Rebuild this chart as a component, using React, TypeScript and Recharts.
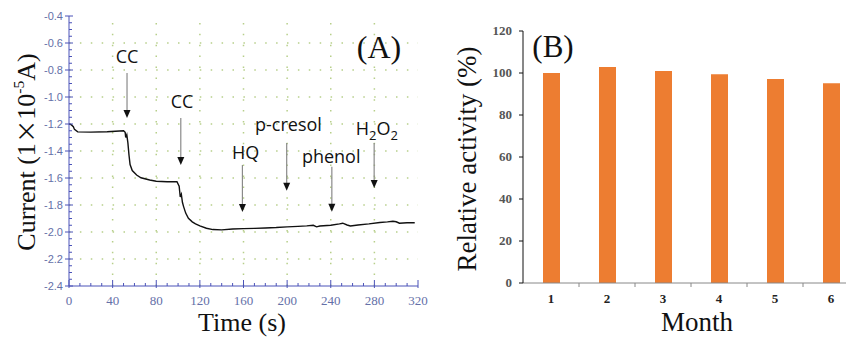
import { LineChart, Line, BarChart, Bar, XAxis, YAxis, ReferenceLine, ReferenceDot } from "recharts";

// panel A: amperometric response
const times = [0, 2, 4, 5, 8, 20, 35, 50, 51.5, 52, 53, 54, 55, 56, 58, 62, 66, 74, 80, 90, 99, 101, 102, 103, 104, 105, 107, 109.5, 113, 116, 120, 126, 132, 140, 150, 160, 170, 180, 190, 200, 210, 218, 224, 227, 230, 240, 248, 251, 255, 258, 265, 275, 285, 292, 297, 300, 303, 310, 317];
const currents = [-1.2, -1.205, -1.22, -1.24, -1.258, -1.26, -1.257, -1.25, -1.262, -1.3, -1.28, -1.34, -1.43, -1.5, -1.545, -1.578, -1.598, -1.615, -1.624, -1.628, -1.627, -1.66, -1.74, -1.72, -1.78, -1.81, -1.86, -1.899, -1.925, -1.94, -1.955, -1.972, -1.982, -1.984, -1.978, -1.975, -1.973, -1.97, -1.967, -1.962, -1.958, -1.955, -1.95, -1.962, -1.956, -1.95, -1.94, -1.935, -1.948, -1.955, -1.948, -1.94, -1.93, -1.925, -1.92, -1.924, -1.935, -1.932, -1.932];

const xMajorA = [0, 40, 80, 120, 160, 200, 240, 280, 320];
const yMajorA = [-2.4, -2.2, -2.0, -1.8, -1.6, -1.4, -1.2, -1.0, -0.8, -0.6, -0.4];

// arrows and labels for the additions
const annoLabels = ["CC", "CC", "HQ", "p-cresol", "phenol", "H2O2"];
const annoArrowT = [53.2, 102.5, 159, 199.6, 241, 279.8];
const annoArrowTop = [-0.822, -1.156, -1.504, -1.341, -1.516, -1.341];
const annoArrowTip = [-1.156, -1.504, -1.852, -1.694, -1.85, -1.674];
const annoTextT = [53.2, 103.7, 161.9, 201.2, 240.4, 282.3];
const annoTextV = [-0.748, -1.081, -1.459, -1.25, -1.487, -1.281];

// panel B: storage stability
const months = ["1", "2", "3", "4", "5", "6"];
const activity = [100, 102.8, 101, 99.4, 97.2, 95.1];
const yTicksB = [0, 20, 40, 60, 80, 100, 120];

const AX = "#4a52b8";
const LBL = "#6470a8";
const GRID = "#b7cf8a";
const bandB = 56;
const serif = "'Liberation Serif', 'Times New Roman', serif";

const withMinor = (major: number[], parts: number) =>
  major.flatMap((m, i) =>
    i === 0 ? [m] : Array.from({ length: parts }, (_, k) => +(major[i - 1] + ((m - major[i - 1]) * (k + 1)) / parts).toFixed(4))
  );
const xTicksA = withMinor(xMajorA, 4);
const yTicksA = withMinor(yMajorA, 4);
const isMajor = (arr: number[], v: number) => arr.some((m) => Math.abs(m - v) < 1e-6);

const lineData = times.map((t, i) => ({ t, current: currents[i] }));
const barData = months.map((m, i) => ({ month: m, activity: activity[i] }));

const XTickA = ({ x, y, payload }: any) => {
  const major = isMajor(xMajorA, payload.value);
  return (
    <g>
      <line x1={x} x2={x} y1={y - (major ? 6 : 3)} y2={y + (major ? 2 : 0)} stroke={AX} />
      {major && (
        <text x={x} y={y + 19} textAnchor="middle" style={{ fontFamily: serif }} fontSize={13} fill={LBL}>
          {payload.value}
        </text>
      )}
    </g>
  );
};

const TopTickA = ({ x, y, payload }: any) => {
  const major = isMajor(xMajorA, payload.value);
  return <line x1={x} x2={x} y1={y} y2={y - (major ? 5 : 3)} stroke={AX} />;
};

const YTickA = ({ x, y, payload }: any) => {
  const major = isMajor(yMajorA, payload.value);
  return (
    <g>
      <line x1={x - (major ? 4 : 0)} x2={x + (major ? 4 : 3)} y1={y} y2={y} stroke={AX} />
      {major && (
        <text x={x - 6} y={y + 4} textAnchor="end" style={{ fontFamily: "'Liberation Sans Narrow', 'Liberation Sans'" }} fontSize={11} fill={LBL}>
          {payload.value.toFixed(1)}
        </text>
      )}
    </g>
  );
};

const RightTickA = ({ x, y, payload }: any) => {
  const major = isMajor(yMajorA, payload.value);
  return <line x1={x - (major ? 3 : 0)} x2={x + (major ? 4 : 3)} y1={y} y2={y} stroke={AX} />;
};

const Arrow = ({ x1, y1, x2, y2 }: any) => (
  <g>
    <line x1={x1} x2={x2} y1={y1} y2={y2 - 7} stroke="#8a8a8a" strokeWidth={1.2} />
    <polygon points={`${x2 - 3.5},${y2 - 8} ${x2 + 3.5},${y2 - 8} ${x2},${y2}`} fill="#111" />
  </g>
);

const AnnoText = (label: string) => ({ cx, cy }: any) => (
  <text x={cx} y={cy} textAnchor="middle" style={{ fontFamily: "'Open Sans'" }} fontSize={18} fill="#111">
    {label === "H2O2" ? (
      <>
        H<tspan dy={5} fontSize={13}>2</tspan>
        <tspan dy={-5}>O</tspan>
        <tspan dy={5} fontSize={13}>2</tspan>
      </>
    ) : (
      label
    )}
  </text>
);

const XTickB = ({ x, y, payload, index }: any) => (
  <g>
    {index > 0 && <line x1={x - bandB / 2} x2={x - bandB / 2} y1={y} y2={y + 4} stroke="#888" />}
    <text x={x} y={y + 20} textAnchor="middle" style={{ fontFamily: serif, fontWeight: "bold" }} fontSize={13} fill="#222">
      {payload.value}
    </text>
  </g>
);

const YTickB = ({ x, y, payload }: any) => (
  <text x={x} y={y + 4} textAnchor="end" style={{ fontFamily: serif, fontWeight: "bold" }} fontSize={13} fill="#555">
    {payload.value}
  </text>
);

const title = (text: any, cx: number, cy: number, size: number, rotate = false) => (
  <div
    style={{
      position: "absolute",
      left: cx,
      top: cy,
      transform: `translate(-50%, -50%)${rotate ? " rotate(-90deg)" : ""}`,
      fontFamily: serif,
      fontSize: size,
      lineHeight: 1,
      whiteSpace: "nowrap",
      color: "#111",
    }}
  >
    {text}
  </div>
);

export default function App() {
  return (
    <div style={{ position: "absolute", left: 0, top: 0, width: 846, height: 337, overflow: "hidden", background: "#fff" }}>
      <div style={{ position: "absolute", left: 0, top: 0 }}>
        <LineChart width={430} height={337} data={lineData} margin={{ top: 16, right: 12, left: 29, bottom: 21 }}>
          <XAxis
            dataKey="t"
            type="number"
            domain={[0, 320]}
            ticks={xTicksA}
            interval={0}
            height={30}
            tickSize={0}
            tickMargin={0}
            tickLine={false}
            axisLine={{ stroke: AX }}
            tick={XTickA}
          />
          <XAxis
            xAxisId="top"
            orientation="top"
            type="number"
            domain={[0, 320]}
            ticks={xTicksA}
            interval={0}
            height={0}
            tickSize={0}
            tickMargin={0}
            tickLine={false}
            axisLine={{ stroke: AX }}
            tick={TopTickA}
          />
          <YAxis
            type="number"
            domain={[-2.4, -0.4]}
            ticks={yTicksA}
            interval={0}
            width={40}
            tickSize={0}
            tickMargin={0}
            tickLine={false}
            axisLine={{ stroke: AX }}
            tick={YTickA}
          />
          <YAxis
            yAxisId="right"
            orientation="right"
            type="number"
            domain={[-2.4, -0.4]}
            ticks={yTicksA}
            interval={0}
            width={0}
            tickSize={0}
            tickMargin={0}
            tickLine={false}
            axisLine={{ stroke: AX }}
            tick={RightTickA}
          />
          {xMajorA.slice(1, -1).map((v) => (
            <ReferenceLine key={"gx" + v} x={v} stroke={GRID} strokeWidth={1.5} strokeDasharray="1.5 9.4" />
          ))}
          {yMajorA.slice(1, -1).map((v) => (
            <ReferenceLine key={"gy" + v} y={v} stroke={GRID} strokeWidth={1.5} strokeDasharray="1.5 9.4" />
          ))}
          <Line type="linear" dataKey="current" stroke="#111" strokeWidth={1.4} dot={false} isAnimationActive={false} />
          {annoLabels.map((l, i) => (
            <ReferenceLine
              key={"ar" + i}
              segment={[
                { x: annoArrowT[i], y: annoArrowTop[i] },
                { x: annoArrowT[i], y: annoArrowTip[i] },
              ]}
              shape={Arrow}
            />
          ))}
          {annoLabels.map((l, i) => (
            <ReferenceDot key={"tx" + i} x={annoTextT[i]} y={annoTextV[i]} r={0} shape={AnnoText(l)} />
          ))}
        </LineChart>
      </div>
      <div style={{ position: "absolute", left: 430, top: 0 }}>
        <BarChart width={440} height={337} data={barData} margin={{ top: 31, right: 11, left: 43, bottom: 24 }}>
          <XAxis
            dataKey="month"
            height={30}
            tickSize={0}
            tickMargin={0}
            tickLine={false}
            axisLine={{ stroke: "#888" }}
            tick={XTickB}
            interval={0}
          />
          <YAxis
            domain={[0, 120]}
            ticks={yTicksB}
            interval={0}
            width={50}
            tickSize={4}
            tickMargin={7}
            tickLine={{ stroke: "#111" }}
            axisLine={{ stroke: "#111" }}
            tick={YTickB}
          />
          <Bar dataKey="activity" fill="#ED7D31" barSize={17} isAnimationActive={false} />
        </BarChart>
      </div>
      {title(
        <span>
          Current (1<span style={{ fontFamily: "'Noto Sans CJK JP'", fontSize: "0.9em" }}>×</span>10
          <sup style={{ fontSize: "0.6em", verticalAlign: "0.7em" }}>-5</sup>A)
        </span>,
        25,
        152,
        26,
        true
      )}
      {title("Time (s)", 242, 323, 26)}
      {title("(A)", 379, 47, 32)}
      {title("(B)", 553, 46, 31)}
      {title("Relative activity (%)", 467, 159, 27, true)}
      {title("Month", 697, 322, 27)}
    </div>
  );
}
